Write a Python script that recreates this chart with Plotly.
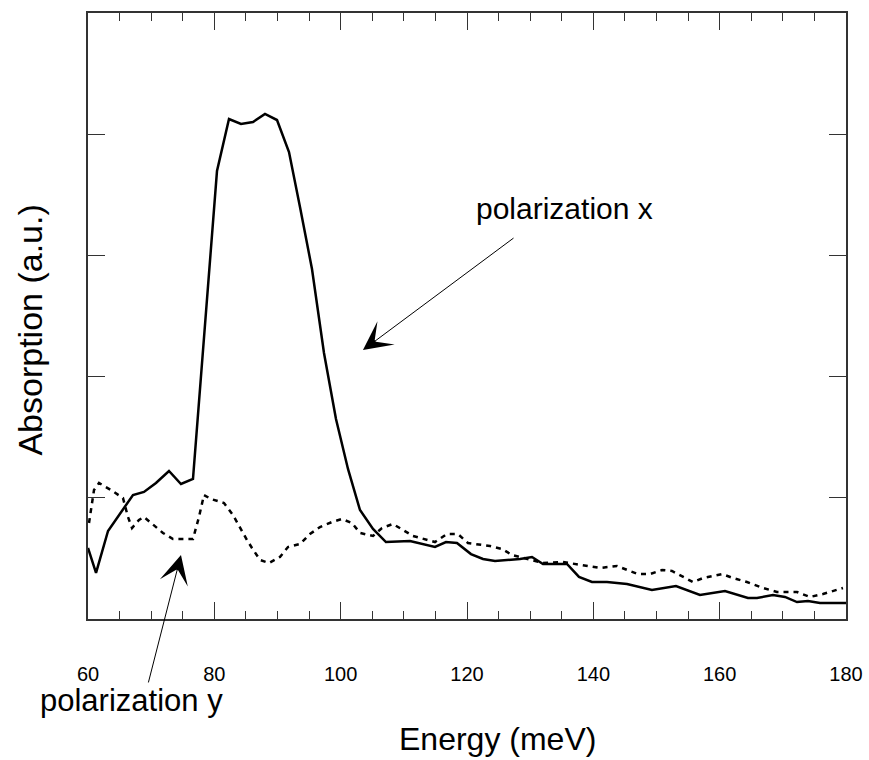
import plotly.graph_objects as go

# Energy (meV) and absorption (a.u.)
energy_x = [60.0, 61.27, 63.17, 65.22, 67.12, 68.86, 70.76, 72.82, 74.72, 76.62,
            80.42, 82.32, 84.22, 86.12, 88.02, 89.92, 91.82, 93.56, 95.46, 97.36,
            99.26, 101.16, 103.06, 105.12, 107.17, 110.97, 114.93, 116.67, 118.41,
            120.63, 122.53, 124.43, 128.39, 130.29, 132.03, 135.83, 137.73, 139.78,
            142.16, 145.33, 149.28, 153.08, 156.88, 160.84, 164.48, 165.91, 168.44,
            170.34, 172.24, 173.98, 175.88, 180.0]
absorption_x = [0.586, 0.380, 0.726, 0.875, 1.023, 1.048, 1.122, 1.221, 1.114, 1.155,
                3.696, 4.125, 4.084, 4.101, 4.167, 4.117, 3.853, 3.399, 2.888, 2.195,
                1.650, 1.238, 0.899, 0.743, 0.635, 0.644, 0.594, 0.635, 0.627,
                0.536, 0.495, 0.479, 0.495, 0.512, 0.454, 0.454, 0.347, 0.305,
                0.305, 0.289, 0.239, 0.272, 0.198, 0.231, 0.173, 0.173, 0.198,
                0.182, 0.140, 0.149, 0.132, 0.132]

energy_y = [60.16, 60.95, 61.74, 63.64, 65.54, 66.33, 66.97, 68.07, 68.86, 70.29,
            71.87, 73.46, 76.62, 77.57, 78.36, 79.47, 81.53, 82.95, 84.06, 85.17,
            85.96, 87.23, 88.65, 90.39, 91.66, 93.56, 95.14, 96.73, 98.63, 100.21,
            101.79, 103.06, 105.12, 106.54, 108.28, 109.86, 111.45, 114.93, 116.83,
            118.57, 120.15, 123.64, 125.54, 127.12, 129.97, 132.03, 135.19, 137.89,
            141.05, 143.74, 145.33, 147.07, 148.97, 150.87, 152.45, 154.19, 155.77,
            157.36, 160.37, 162.11, 164.32, 166.86, 169.07, 172.24, 174.30, 176.35,
            179.52]
absorption_y = [0.792, 1.064, 1.122, 1.064, 0.998, 0.842, 0.751, 0.817, 0.842, 0.776,
                0.710, 0.660, 0.660, 0.842, 1.023, 0.990, 0.957, 0.858, 0.751, 0.652,
                0.586, 0.487, 0.462, 0.512, 0.594, 0.619, 0.701, 0.759, 0.800, 0.825,
                0.792, 0.710, 0.685, 0.751, 0.784, 0.734, 0.685, 0.635, 0.701,
                0.701, 0.627, 0.602, 0.578, 0.528, 0.487, 0.462, 0.470, 0.446,
                0.421, 0.437, 0.404, 0.371, 0.371, 0.404, 0.396, 0.347, 0.305,
                0.338, 0.371, 0.338, 0.305, 0.256, 0.223, 0.223, 0.182, 0.206,
                0.256]

x_tick_vals = [60, 80, 100, 120, 140, 160, 180]
x_tick_text = ["60", "80", "100", "120", "140", "160", "180"]

FONT = "Liberation Sans, Arial, sans-serif"

fig = go.Figure()
fig.add_trace(go.Scatter(x=energy_x, y=absorption_x, mode="lines",
                         line=dict(color="black", width=2.5), showlegend=False))
fig.add_trace(go.Scatter(x=energy_y, y=absorption_y, mode="lines",
                         line=dict(color="black", width=2.5, dash="5px,5px"),
                         showlegend=False))

# arrows and labels
fig.add_annotation(x=103.53, y=2.219, ax=127.6, ay=3.152, axref="x", ayref="y",
                   text="", showarrow=True, arrowhead=3, arrowsize=4.8,
                   arrowwidth=1.0, arrowcolor="black")
fig.add_annotation(x=135.5, y=3.383, text="polarization x", showarrow=False,
                   xanchor="center", yanchor="middle",
                   font=dict(family=FONT, size=30, color="black"))
fig.add_annotation(x=74.72, y=0.528, ax=69.5, ay=-0.536, axref="x", ayref="y",
                   text="", showarrow=True, arrowhead=3, arrowsize=4.8,
                   arrowwidth=1.0, arrowcolor="black")
fig.add_annotation(x=0.058, y=-0.134, xref="paper", yref="paper",
                   text="polarization y", showarrow=False,
                   xanchor="center", yanchor="middle",
                   font=dict(family=FONT, size=31, color="black"))

# axis titles
fig.add_annotation(x=0.54, y=-0.198, xref="paper", yref="paper",
                   text="Energy (meV)", showarrow=False,
                   xanchor="center", yanchor="middle",
                   font=dict(family=FONT, size=32, color="black"))
fig.add_annotation(x=-0.077, y=0.477, xref="paper", yref="paper",
                   text="Absorption (a.u.)", showarrow=False, textangle=-90,
                   xanchor="center", yanchor="middle",
                   font=dict(family=FONT, size=34, color="black"))

fig.update_layout(
    width=869, height=760,
    margin=dict(l=88, r=23, t=13, b=141),
    paper_bgcolor="white", plot_bgcolor="white",
    font=dict(family=FONT, color="black"),
    xaxis=dict(range=[60, 180], tickmode="array", tickvals=x_tick_vals,
               ticktext=x_tick_text, ticks="inside", ticklen=17, tickwidth=1.3,
               tickcolor="#333", showline=True, linecolor="#333", linewidth=1.5,
               mirror="ticks", showgrid=False, zeroline=False, automargin=False,
               tickfont=dict(size=20), ticklabelstandoff=36,
               minor=dict(dtick=5, ticks="inside", ticklen=8, tickwidth=1.3,
                          tickcolor="#333", showgrid=False)),
    yaxis=dict(range=[0, 5], dtick=1, ticks="inside", ticklen=17, tickwidth=1.3,
               tickcolor="#333", showline=True, linecolor="#333", linewidth=1.5,
               mirror="ticks", showgrid=False, zeroline=False, automargin=False,
               showticklabels=False),
)

fig.write_html("out.html")
